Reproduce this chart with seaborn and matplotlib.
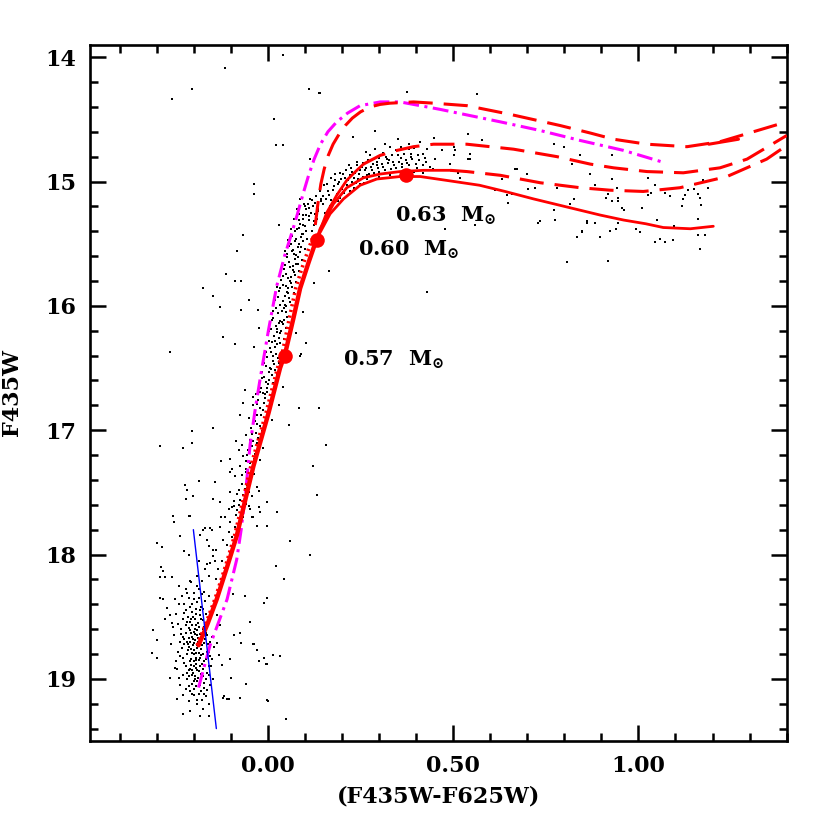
import numpy as np
import pandas as pd
import matplotlib
matplotlib.use("Agg")
import matplotlib.pyplot as plt
import seaborn as sns
from matplotlib.ticker import MultipleLocator, FormatStrFormatter

# ---------------- data (colour, magnitude) ----------------
# turnoff / main-sequence clump
ms_stars = [
(-0.200,18.62),(-0.195,18.57),(-0.206,18.66),(-0.189,18.70),(-0.211,18.54),(-0.184,18.49),(-0.216,18.72),
(-0.198,18.77),(-0.181,18.81),(-0.207,18.84),(-0.193,18.88),(-0.176,18.92),(-0.202,18.95),(-0.188,18.99),
(-0.171,19.03),(-0.195,19.06),(-0.180,19.10),(-0.166,19.14),(-0.190,19.17),(-0.160,19.20),(-0.220,18.45),
(-0.228,18.52),(-0.235,18.60),(-0.225,18.68),(-0.232,18.75),(-0.218,18.80),(-0.226,18.87),(-0.212,18.93),
(-0.219,19.00),(-0.206,19.04),(-0.175,18.60),(-0.170,18.68),(-0.178,18.73),(-0.165,18.78),(-0.172,18.86),
(-0.160,18.90),(-0.158,18.97),(-0.168,19.00),(-0.155,19.05),(-0.150,18.84),(-0.145,18.74),(-0.152,18.66),
(-0.162,18.55),(-0.168,18.48),(-0.180,18.42),(-0.192,18.38),(-0.205,18.40),(-0.214,18.35),(-0.199,18.31),
(-0.186,18.28),(-0.240,18.40),(-0.248,18.48),(-0.243,18.56),(-0.252,18.65),(-0.238,18.82),(-0.245,18.92),
(-0.230,18.97),(-0.236,19.05),(-0.211,19.10),(-0.198,19.13),(-0.203,18.50),(-0.188,18.55),(-0.196,18.69),
(-0.183,18.64),(-0.209,18.61),(-0.201,18.73),(-0.187,18.79),(-0.194,18.83),(-0.179,18.88),(-0.186,18.94),
(-0.197,18.98),(-0.208,18.89),(-0.216,18.77),(-0.221,18.63),(-0.213,18.59),(-0.204,18.46),(-0.176,18.44),
(-0.170,18.37),(-0.160,18.33),(-0.173,18.30),(-0.190,18.25),(-0.208,18.22),(-0.222,18.28),(-0.233,18.33),
(-0.263,18.99),(-0.245,19.16),(-0.214,19.18),(-0.183,19.30),(-0.106,19.16),(-0.120,19.15),(-0.075,19.15),
(-0.059,19.04),(-0.100,18.99),(-0.073,18.71),(-0.039,18.72),(-0.030,18.77),(-0.010,18.83),(-0.003,18.88),
(0.013,18.81),(0.033,18.82),(-0.001,19.17),(0.049,19.32),(-0.313,18.79),(-0.298,18.83),(-0.300,18.69),
(-0.250,18.91),(-0.310,18.61),(-0.282,18.36),(-0.290,18.35),(-0.272,18.43),(-0.265,18.49),(-0.278,18.52),
(-0.259,18.55),(-0.289,18.10),(-0.282,18.13),(-0.277,18.18),(-0.259,18.18),(-0.292,18.18),(-0.286,17.94),
(-0.300,17.91),(-0.228,19.13),(-0.061,18.33),(-0.048,18.54),(-0.075,18.63),(-0.091,18.65),(-0.102,18.84),
(-0.118,19.14),(-0.109,19.16),(0.000,19.18),(-0.003,18.35),(-0.010,18.39),(0.015,18.81),(-0.005,18.88),
(-0.023,18.86),(-0.037,18.72),(-0.138,18.49),(-0.130,18.57),(-0.138,18.71),(-0.124,18.89),(-0.148,19.00),
(-0.133,18.81),(-0.210,18.92),(-0.129,18.28),(-0.093,18.32),(0.022,18.09),(0.044,18.20),(0.060,17.89),
(0.114,18.00),(-0.197,18.60),(-0.203,18.68),(-0.192,18.65),(-0.185,18.58),(-0.210,18.70),(-0.190,18.75),
(-0.200,18.80),(-0.185,18.85),(-0.195,18.91),(-0.205,18.97),(-0.180,18.96),(-0.190,19.02),(-0.172,19.07),
(-0.185,19.12),(-0.215,18.50),(-0.222,18.57),(-0.228,18.66),(-0.214,18.67),(-0.230,18.83),(-0.218,18.95),
(-0.174,18.53),(-0.167,18.63),(-0.162,18.72),(-0.157,18.82),(-0.165,18.95),(-0.183,18.45),(-0.195,18.44),
(-0.225,18.40),(-0.238,18.70),(-0.243,18.78),(-0.177,19.17),(-0.200,19.08),(-0.214,19.06),(-0.187,18.35),
(-0.178,18.32),(-0.197,18.52),(-0.205,18.57),(-0.182,18.68),(-0.193,18.79),(-0.204,18.93),(-0.199,18.86),
(-0.191,18.61),(-0.207,18.76),(-0.184,18.90),(-0.172,18.58),(-0.219,18.70),(-0.196,19.00),(-0.176,18.98),
(-0.196,18.64),(-0.188,18.67),(-0.208,18.63),(-0.214,18.74),(-0.199,18.71),(-0.192,18.73),(-0.180,18.76),
(-0.206,18.79),(-0.195,18.85),(-0.211,18.86),(-0.183,18.83),(-0.176,18.80),(-0.200,18.90),(-0.190,18.93),
(-0.212,18.98),(-0.199,19.02),(-0.183,19.05),(-0.206,19.12),(-0.192,19.20),(-0.174,19.24),(-0.222,18.90),
(-0.227,18.72),(-0.234,18.64),(-0.218,18.54),(-0.207,18.52),(-0.193,18.48),(-0.181,18.52),(-0.170,18.57),
(-0.163,18.65),(-0.155,18.70),(-0.171,18.71),(-0.159,18.78),(-0.167,18.84),(-0.153,18.90),(-0.163,19.09),
(-0.173,19.12),(-0.226,18.47),(-0.211,18.42),(-0.200,18.36),(-0.218,18.31),(-0.240,18.25),(-0.250,18.36),
(-0.256,18.58),(-0.262,18.72),(-0.247,18.86),(-0.239,18.99),(-0.222,19.08),(-0.230,19.28),(-0.210,19.26),
(-0.160,19.30),
]
# subgiant region
sg_stars = [
(-0.255,17.69),(-0.252,17.74),(-0.237,17.85),(-0.225,17.97),(-0.214,18.00),(-0.212,17.69),(-0.183,17.84),
(-0.175,17.80),(-0.156,17.79),(-0.151,17.80),(-0.160,17.93),(-0.148,17.96),(-0.139,17.96),(-0.147,18.01),
(-0.163,18.08),(-0.156,18.07),(-0.142,18.05),(-0.192,18.17),(-0.178,18.21),(-0.158,18.17),(-0.210,18.21),
(-0.129,17.58),(-0.102,17.74),(-0.097,17.62),(-0.039,17.70),(-0.021,17.66),(-0.070,17.67),(-0.048,17.63),
(-0.102,17.98),(-0.124,18.05),(-0.120,17.88),(-0.110,17.92),(-0.130,17.78),(-0.115,17.70),(-0.105,17.82),
(-0.135,18.12),(-0.118,18.15),(-0.125,18.22),(-0.140,18.20),(-0.098,17.86),(-0.090,17.78),(-0.085,17.68),
(-0.092,17.57),(-0.078,17.60),(-0.170,18.12),(-0.185,18.05),(-0.165,17.88),
]
# red giant branch band
rgb_stars = [
(-0.091,17.61),(-0.058,17.59),(-0.074,17.56),(-0.043,17.53),(-0.083,17.51),(-0.062,17.47),(-0.029,17.46),
(-0.069,17.43),(-0.051,17.40),(-0.088,17.37),(-0.038,17.35),(-0.060,17.31),(-0.075,17.29),(-0.047,17.26),
(-0.022,17.24),(-0.066,17.21),(-0.035,17.19),(-0.053,17.16),(-0.012,17.14),(-0.071,17.12),(-0.041,17.09),
(-0.027,17.06),(-0.058,17.04),(-0.016,17.01),(-0.046,16.98),(-0.030,16.95),(-0.004,16.93),(-0.052,16.90),
(-0.019,16.88),(-0.035,16.85),(0.006,16.83),(-0.041,16.80),(-0.010,16.78),(-0.026,16.76),(0.012,16.73),
(-0.033,16.71),(-0.002,16.69),(-0.018,16.66),(0.019,16.64),(-0.024,16.62),(0.004,16.60),(-0.011,16.57),
(0.025,16.55),(-0.016,16.53),(0.009,16.51),(-0.006,16.48),(0.030,16.46),(0.014,16.44),(-0.001,16.41),
(0.021,16.39),(0.037,16.36),(0.006,16.34),(0.026,16.31),(0.011,16.29),(0.043,16.27),(0.017,16.24),
(0.032,16.22),(0.003,16.20),(0.048,16.18),(0.022,16.16),(0.037,16.13),(0.010,16.11),(0.053,16.09),
(0.028,16.06),(0.015,16.04),(0.044,16.02),(0.034,15.99),(0.060,15.97),(0.020,15.95),(0.047,15.92),
(0.071,15.90),(0.029,15.88),(0.055,15.86),(0.040,15.83),(0.077,15.81),(0.036,15.79),(0.062,15.77),
(0.048,15.74),(0.085,15.72),(0.043,15.70),(0.069,15.68),(0.056,15.65),(0.092,15.63),(0.051,15.61),
(0.077,15.59),(0.064,15.56),(0.099,15.54),(0.058,15.52),(0.084,15.50),(0.072,15.48),(0.105,15.46),
(0.066,15.44),(0.091,15.42),(0.118,15.40),(0.079,15.38),(0.100,15.36),(0.087,15.34),(0.125,15.32),
(0.095,15.30),(0.112,15.28),(0.083,15.26),(0.134,15.24),(0.104,15.22),(0.121,15.20),(0.097,15.18),
(0.143,15.16),(0.113,15.14),(0.130,15.12),(0.008,16.37),(0.031,16.26),(0.019,16.33),(0.041,16.15),
(0.025,16.21),(0.050,16.05),(0.033,16.12),(0.058,15.94),(0.045,15.99),(0.066,15.85),(0.052,15.89),
(0.073,15.75),(0.060,15.80),(0.081,15.66),(0.067,15.71),(0.088,15.57),(0.074,15.62),(0.096,15.48),
(0.082,15.53),(0.103,15.40),(0.089,15.45),(0.110,15.31),(0.096,15.35),(0.117,15.25),(0.103,15.27),
(0.126,15.17),(0.112,15.21),(-0.030,16.88),(-0.008,16.74),(-0.020,16.82),(0.000,16.63),(-0.012,16.70),
(0.010,16.56),(-0.004,16.61),(0.016,16.47),(0.005,16.50),(-0.060,17.25),(-0.044,17.13),(-0.055,17.20),
(-0.032,17.02),(-0.048,17.08),(-0.070,17.36),(-0.056,17.44),(-0.078,17.48),(0.046,15.56),(0.055,15.47),
(0.063,15.38),(0.071,15.30),(0.079,15.22),(0.088,15.14),(0.070,15.58),(0.038,15.66),(0.024,15.85),
(0.084,15.31),(0.094,15.27),(0.108,15.18),(0.118,15.15),(0.100,15.20),(0.073,15.40),(0.085,15.37),
(0.095,15.42),(0.062,15.50),(0.076,15.46),(0.090,15.53),(0.053,15.58),(0.068,15.55),(0.082,15.61),
(0.047,15.67),(0.060,15.69),(0.075,15.66),(0.040,15.76),(0.054,15.78),(0.070,15.73),(0.034,15.86),
(0.048,15.84),(0.063,15.82),(0.028,15.93),(0.042,15.96),(0.055,15.90),(0.022,16.02),(0.037,16.04),
(0.050,16.00),(0.015,16.10),(0.029,16.14),(0.044,16.11),(0.008,16.19),(0.024,16.19),(0.036,16.20),
(0.003,16.28),(0.018,16.28),(0.034,16.30),(-0.004,16.37),(0.013,16.40),(0.028,16.42),(-0.010,16.46),
(0.002,16.53),(0.020,16.52),(-0.015,16.58),(-0.002,16.66),(0.014,16.62),(-0.022,16.69),(-0.007,16.71),
(-0.028,16.79),(-0.014,16.84),(-0.035,16.93),(-0.022,16.97),(-0.042,17.03),(-0.030,17.10),(-0.050,17.18),
(-0.038,17.23),(-0.058,17.34),(-0.045,17.38),(-0.066,17.52),(-0.050,17.50),(-0.083,17.64),(-0.068,17.70),
]
# scattered stars around the giant branch
rgb_field = [
(-0.175,15.86),(-0.147,15.92),(-0.130,16.01),(-0.072,16.03),(-0.052,15.95),(-0.027,16.03),(-0.120,16.25),
(-0.090,16.31),(-0.025,16.18),(-0.037,16.33),(-0.061,16.68),(-0.040,16.73),(-0.067,16.78),(-0.075,16.88),
(-0.147,16.98),(-0.205,17.01),(-0.205,17.10),(-0.086,17.09),(-0.079,17.16),(-0.126,17.25),(-0.102,17.23),
(-0.103,17.34),(-0.097,17.31),(-0.142,17.42),(-0.185,17.41),(-0.223,17.44),(-0.217,17.48),(-0.221,17.55),
(-0.201,17.53),(-0.148,17.55),(-0.103,17.50),(-0.210,17.69),(-0.106,17.63),(-0.126,17.70),(-0.151,17.80),
(-0.169,17.79),(-0.052,17.61),(-0.023,17.62),(-0.043,17.70),(-0.028,17.77),(-0.003,17.58),(-0.025,17.49),
(0.024,17.66),(-0.001,17.77),(0.132,17.52),(0.123,17.29),(0.156,17.12),(0.057,16.96),(0.085,16.82),
(0.139,16.82),(0.103,16.30),(0.089,16.39),(0.096,16.05),(0.125,15.82),(0.075,16.22),(0.042,16.65),
(0.029,16.80),(0.011,16.92),(-0.066,15.43),(0.031,15.35),(-0.084,15.56),(-0.113,15.74),(-0.088,15.80),
(-0.073,15.80),(-0.263,16.37),(-0.290,17.13),(-0.230,17.14),
]
# horizontal-branch / red-clump region
hb_stars = [
(0.150,15.12),(0.162,15.08),(0.171,15.15),(0.178,15.04),(0.186,15.10),(0.193,15.00),(0.199,15.06),
(0.207,14.97),(0.214,15.03),(0.221,14.95),(0.228,15.00),(0.236,14.93),(0.243,14.98),(0.250,14.91),
(0.257,14.96),(0.265,14.89),(0.272,14.94),(0.279,14.88),(0.287,14.93),(0.294,14.87),(0.301,14.92),
(0.309,14.86),(0.316,14.91),(0.324,14.85),(0.331,14.90),(0.339,14.84),(0.347,14.89),(0.355,14.84),
(0.363,14.88),(0.372,14.83),(0.381,14.87),(0.390,14.82),(0.399,14.86),(0.408,14.83),(0.418,14.87),
(0.428,14.84),(0.438,14.88),(0.182,14.99),(0.196,14.93),(0.210,14.91),(0.225,14.89),(0.240,14.87),
(0.256,14.85),(0.270,14.83),(0.286,14.82),(0.300,14.81),(0.318,14.80),(0.334,14.79),(0.352,14.79),
(0.368,14.78),(0.386,14.78),(0.405,14.79),(0.160,15.02),(0.170,14.97),(0.140,15.08),(0.205,15.09),
(0.232,15.05),(0.260,15.01),(0.292,14.98),(0.222,15.08),(0.195,15.13),(0.168,15.20),(0.155,15.25),
(0.148,15.18),(0.135,15.22),(0.240,14.84),(0.275,14.79),(0.310,14.77),(0.345,14.75),(0.380,14.74),
(0.420,14.78),(0.450,14.82),(0.445,14.90),(0.420,14.93),(0.395,14.92),(0.330,14.95),(0.300,14.96),
(0.268,14.98),(0.250,15.02),(0.215,14.99),(0.190,15.02),(0.350,14.66),(0.380,14.70),(0.410,14.68),
(0.330,14.72),(0.430,14.74),(0.360,14.72),(0.395,14.73),(0.315,14.70),(0.290,14.74),(0.265,14.76),
(0.203,14.94),(0.218,14.87),(0.247,14.94),(0.262,14.91),(0.283,14.86),(0.297,14.89),(0.322,14.82),
(0.340,14.87),(0.358,14.81),(0.376,14.85),(0.232,14.97),(0.176,15.07),(0.189,15.16),(0.158,15.14),
(0.152,15.03),(0.166,15.11),(0.180,14.94),(0.198,14.98),(0.212,15.06),(0.226,14.92),(0.238,15.01),
(0.253,14.88),(0.267,14.95),(0.281,14.91),(0.295,14.84),(0.312,14.88),(0.327,14.83),(0.343,14.92),
(0.361,14.86),(0.385,14.80),(0.402,14.89),(0.425,14.81),(0.143,15.14),(0.133,15.30),(0.125,15.35),
(0.128,15.26),
]
# sparse stars to the right and far field
field_stars = [
(0.040,13.98),(-0.115,14.09),(-0.205,14.26),(-0.258,14.34),(0.111,14.26),(0.141,14.29),(0.016,14.50),
(0.022,14.71),(0.042,14.71),(0.231,14.64),(-0.037,15.02),(-0.037,15.10),(0.375,14.28),(0.564,14.30),
(0.290,14.59),(0.447,14.65),(0.505,14.75),(0.541,14.82),(0.672,14.90),(0.771,14.70),(0.820,14.86),
(0.721,15.05),(0.645,15.11),(0.730,15.33),(0.807,15.65),(0.429,15.89),(0.166,15.72),(0.087,16.40),
(0.559,15.35),(0.478,15.38),(0.541,14.62),(0.577,14.67),(0.501,14.72),(0.546,14.78),(0.546,14.82),
(0.501,14.79),(0.469,14.75),(0.492,14.86),(0.514,14.93),(0.519,14.97),(0.667,14.90),(0.699,14.94),
(0.627,14.95),(0.631,14.98),(0.703,15.06),(0.780,15.05),(0.613,15.07),(0.649,15.17),(0.658,15.10),
(0.798,14.72),(0.843,14.79),(0.825,15.14),(0.816,15.18),(0.847,15.41),(0.834,15.45),(0.861,15.32),
(0.883,15.33),(0.771,15.23),(0.775,15.31),(0.735,15.32),(0.928,14.79),(0.870,14.94),(0.883,15.03),
(0.928,14.98),(0.942,15.05),(0.919,15.10),(0.913,15.13),(0.928,15.16),(0.946,15.13),(0.946,15.16),
(0.955,15.21),(0.960,15.23),(1.009,15.21),(1.027,14.97),(1.045,15.03),(1.034,15.09),(1.027,15.11),
(1.084,15.12),(1.072,15.09),(1.126,15.11),(1.117,15.20),(1.121,15.14),(1.135,15.07),(1.153,15.02),
(1.150,15.06),(1.162,15.10),(1.165,15.13),(1.168,15.19),(1.189,15.05),(1.175,14.99),(1.162,15.30),
(1.162,15.43),(1.165,15.54),(1.180,15.43),(1.097,15.36),(1.094,15.47),(1.072,15.49),(1.059,15.46),
(1.045,15.49),(1.050,15.31),(1.036,15.35),(0.994,15.38),(1.005,15.41),(0.946,15.33),(0.940,15.38),
(0.922,15.40),(0.895,15.45),(0.861,15.33),(0.847,15.40),(0.919,15.64),(0.138,14.29),(0.114,14.82),
]

# model sequences
main_x = [-0.187, -0.163, -0.138, -0.110, -0.084, -0.060, -0.039, -0.018, 0.002, 0.020, 0.033, 0.047, 0.069, 0.087, 0.110, 0.132]
main_y = [18.73, 18.56, 18.36, 18.10, 17.85, 17.55, 17.29, 17.07, 16.86, 16.65, 16.50, 16.38, 16.10, 15.86, 15.65, 15.46]
dot_x = [-0.191, -0.168, -0.143, -0.115, -0.090, -0.066, -0.046, -0.025, -0.005, 0.013, 0.026, 0.039, 0.058, 0.075, 0.097, 0.120]
dot_y = [18.73, 18.56, 18.36, 18.10, 17.85, 17.55, 17.29, 17.07, 16.86, 16.65, 16.50, 16.38, 16.10, 15.86, 15.65, 15.46]
t1_x = [0.132, 0.150, 0.168, 0.204, 0.249, 0.294, 0.357, 0.411, 0.480, 0.571, 0.640, 0.717, 0.800, 0.897, 0.960, 1.020, 1.067, 1.140, 1.202]
t1_y = [15.46, 15.36, 15.26, 15.14, 15.03, 14.98, 14.96, 14.96, 14.99, 15.03, 15.08, 15.14, 15.20, 15.27, 15.31, 15.34, 15.37, 15.38, 15.36]
t2s_x = [0.128, 0.141, 0.177, 0.213, 0.258, 0.303, 0.357, 0.420, 0.492]
t2s_y = [15.50, 15.38, 15.18, 15.05, 14.97, 14.94, 14.92, 14.91, 14.91]
t2d_x = [0.492, 0.537, 0.627, 0.735, 0.843, 0.924, 1.013, 1.112, 1.239, 1.346, 1.400]
t2d_y = [14.91, 14.92, 14.95, 15.01, 15.05, 15.07, 15.08, 15.05, 14.96, 14.82, 14.71]
t3s_x = [0.132, 0.145, 0.159, 0.186, 0.213, 0.240, 0.258]
t3s_y = [15.46, 15.36, 15.25, 15.11, 14.99, 14.91, 14.86]
t3d_x = [0.258, 0.303, 0.348, 0.393, 0.447, 0.537, 0.663, 0.780, 0.870, 0.933, 1.023, 1.121, 1.220, 1.293, 1.400]
t3d_y = [14.86, 14.79, 14.75, 14.72, 14.70, 14.70, 14.74, 14.80, 14.86, 14.89, 14.92, 14.93, 14.89, 14.82, 14.63]
t4_x = [0.128, 0.135, 0.143, 0.152, 0.163, 0.176, 0.192, 0.209, 0.228, 0.250, 0.276, 0.303, 0.330, 0.393, 0.447, 0.537, 0.654, 0.789, 0.870, 0.933, 1.023, 1.131, 1.220, 1.310, 1.400]
t4_y = [15.35, 15.18, 15.02, 14.90, 14.79, 14.70, 14.62, 14.55, 14.49, 14.44, 14.40, 14.38, 14.37, 14.36, 14.37, 14.39, 14.46, 14.55, 14.61, 14.66, 14.70, 14.72, 14.68, 14.60, 14.52]
hook_x = [1.19, 1.23, 1.27]
hook_y = [14.70, 14.68, 14.66]
mag_x = [-0.187, -0.156, -0.110, -0.084, -0.072, -0.060, -0.048, -0.035, -0.021, 0.002, 0.024, 0.045, 0.065, 0.080, 0.095, 0.110, 0.125, 0.142, 0.162, 0.186, 0.215, 0.249, 0.303, 0.357, 0.465, 0.627, 0.735, 0.843, 0.960, 1.072]
mag_y = [19.07, 18.73, 18.36, 18.04, 17.80, 17.50, 17.12, 16.85, 16.59, 16.19, 15.84, 15.60, 15.41, 15.26, 15.10, 14.95, 14.82, 14.70, 14.60, 14.52, 14.45, 14.39, 14.36, 14.36, 14.42, 14.52, 14.59, 14.67, 14.75, 14.85]
blue_x = [-0.201, -0.139]
blue_y = [17.80, 19.40]
mass_x = [0.047, 0.132, 0.373]
mass_y = [16.40, 15.47, 14.95]
mass_labels = ["0.57  M$_{\\odot}$", "0.60  M$_{\\odot}$", "0.63  M$_{\\odot}$"]
label_x = [0.203, 0.243, 0.343]
label_y = [16.48, 15.60, 15.32]

# ---------------- plotting ----------------
sns.set_theme(style="ticks")
plt.rcParams['font.family'] = ['DejaVu Serif']
plt.rcParams['font.weight'] = 'bold'
plt.rcParams['mathtext.fontset'] = 'dejavuserif'

fig = plt.figure(figsize=(8.3, 8.3), dpi=100)
ax = fig.add_axes([0.1084, 0.1072, 0.8394, 0.8389])

stars = pd.DataFrame(ms_stars + sg_stars + rgb_stars + rgb_field + hb_stars + field_stars,
                     columns=["col", "mag"])
sns.scatterplot(data=stars, x="col", y="mag", color="black", marker="s", s=3.2,
                linewidth=0, ax=ax, zorder=2)

def curve(x, y, color, lw, ls, z=3):
    sns.lineplot(x=x, y=y, sort=False, estimator=None, color=color, lw=lw,
                 linestyle=ls, ax=ax, zorder=z)

red = "#ff0000"
curve(mag_x, mag_y, "#ff00ff", 2.2, (0, (5.2, 1.8, 1.0, 1.8)))
curve(dot_x, dot_y, red, 2.6, (0, (0.6, 1.0)))
curve(main_x, main_y, red, 3.2, "-")
curve(t1_x, t1_y, red, 2.0, "-")
curve(t2s_x, t2s_y, red, 2.0, "-")
curve(t2d_x, t2d_y, red, 2.2, (0, (7.9, 3.6)))
curve(t3s_x, t3s_y, red, 2.0, "-")
curve(t3d_x, t3d_y, red, 2.2, (0, (7.9, 3.6)))
curve(t4_x, t4_y, red, 2.2, (0, (7.9, 3.6)))
curve(hook_x, hook_y, red, 2.2, "-")
curve(blue_x, blue_y, "#0000ff", 1.0, "-")

sns.scatterplot(x=mass_x, y=mass_y, color=red, s=110, linewidth=0, ax=ax, zorder=5)
for lx, ly, t in zip(label_x, label_y, mass_labels):
    ax.text(lx, ly, t, fontsize=15, fontweight="bold", ha="left", va="baseline", color="black")

ax.set_xlim(-0.48, 1.40)
ax.set_ylim(19.5, 13.9)
ax.xaxis.set_major_locator(MultipleLocator(0.5))
ax.xaxis.set_minor_locator(MultipleLocator(0.1))
ax.xaxis.set_major_formatter(FormatStrFormatter("%.2f"))
ax.yaxis.set_major_locator(MultipleLocator(1))
ax.yaxis.set_minor_locator(MultipleLocator(0.2))
ax.tick_params(which="both", direction="in", top=True, right=True, width=1.8,
               color="black", labelsize=16, labelcolor="black")
ax.tick_params(which="major", length=11.5, pad=10)
ax.tick_params(which="minor", length=5.8)
for lab in ax.get_xticklabels() + ax.get_yticklabels():
    lab.set_fontweight("bold")
for sp in ax.spines.values():
    sp.set_linewidth(1.9)
    sp.set_color("black")
ax.set_xlabel("(F435W-F625W)", fontsize=16, fontweight="bold", labelpad=6, color="black")
ax.set_ylabel("F435W", fontsize=16, fontweight="bold", labelpad=16, color="black")
ax.grid(False)

fig.savefig("out.png", dpi=100, facecolor="white")
